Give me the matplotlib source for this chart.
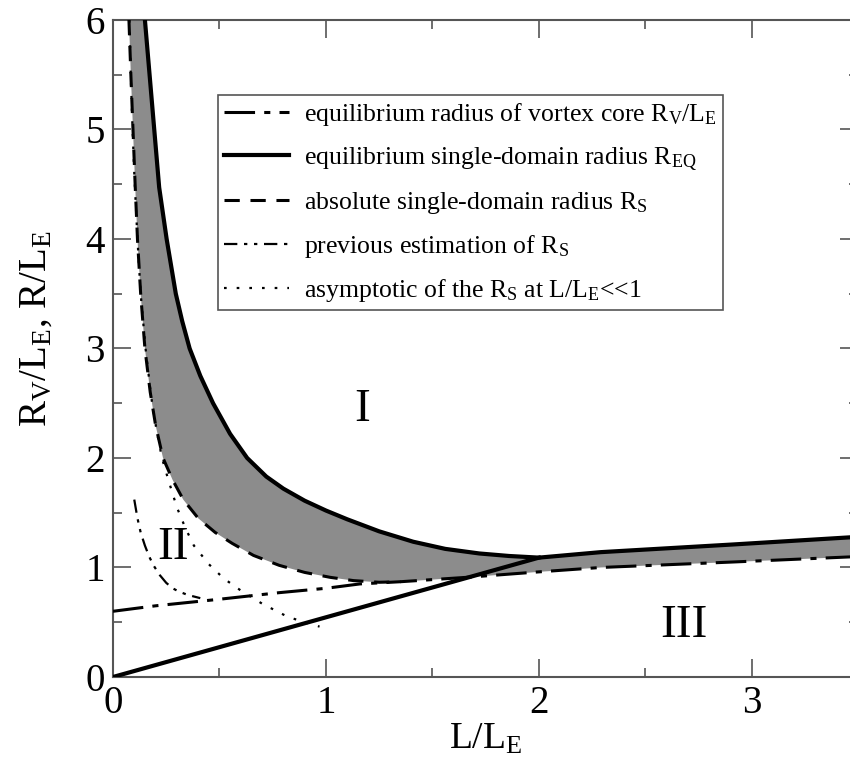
import numpy as np
import matplotlib
matplotlib.use("Agg")
import matplotlib.pyplot as plt
from matplotlib.ticker import MultipleLocator

# --- fonts: Times-like serif everywhere ---
plt.rcParams['font.family'] = ['Liberation Serif', 'DejaVu Serif']
plt.rcParams['mathtext.fontset'] = 'custom'
plt.rcParams['mathtext.rm'] = 'Liberation Serif'
plt.rcParams['mathtext.it'] = 'Liberation Serif:italic'

# --- data ---
# equilibrium radius of vortex core R_V/L_E
rv_x = [0.0, 0.2, 0.5, 0.78, 1.0, 1.16, 1.35, 1.66, 2.0, 2.29, 2.91, 3.5]
rv_y = [0.60, 0.65, 0.71, 0.77, 0.81, 0.85, 0.87, 0.91, 0.96, 1.00, 1.05, 1.10]

# equilibrium single-domain radius R_EQ, upper branch (then beyond the triple point)
req_up_x = [0.15, 0.217, 0.252, 0.295, 0.325, 0.36, 0.41, 0.47, 0.55, 0.63, 0.72, 0.80,
            0.90, 1.0, 1.10, 1.25, 1.41, 1.56, 1.72, 1.86, 2.0,
            2.29, 2.91, 3.5]
req_up_y = [6.0, 4.47, 4.0, 3.5, 3.25, 3.0, 2.75, 2.5, 2.22, 2.0, 1.83, 1.72,
            1.61, 1.52, 1.44, 1.33, 1.235, 1.17, 1.128, 1.105, 1.09,
            1.14, 1.21, 1.28]
# lower branch of R_EQ (straight from the origin)
req_lo_x = [0.0, 2.0]
req_lo_y = [0.0, 1.09]

# absolute single-domain radius R_S
rs_x = [0.075, 0.084, 0.094, 0.104, 0.115, 0.13, 0.15, 0.175, 0.20, 0.235, 0.28, 0.33,
        0.40, 0.48, 0.56, 0.66, 0.78, 0.90, 1.02, 1.13, 1.25, 1.35]
rs_y = [6.0, 5.5, 5.0, 4.5, 4.0, 3.5, 3.0, 2.6, 2.3, 2.0, 1.8, 1.62,
        1.45, 1.32, 1.22, 1.11, 1.02, 0.955, 0.91, 0.88, 0.865, 0.87]

# previous estimation of R_S
prev_x = [0.10, 0.115, 0.13, 0.15, 0.17, 0.19, 0.22, 0.25, 0.28, 0.31, 0.35, 0.41]
prev_y = [1.62, 1.45, 1.32, 1.20, 1.10, 1.02, 0.93, 0.86, 0.81, 0.78, 0.75, 0.72]

# asymptotic of R_S at L/L_E << 1
asym_x = [0.077, 0.085, 0.092, 0.10, 0.115, 0.13, 0.153, 0.18, 0.205, 0.23, 0.26, 0.30,
          0.34, 0.38, 0.45, 0.52, 0.60, 0.70, 0.82, 0.90, 0.97]
asym_y = [6.0, 5.4, 5.0, 4.6, 4.0, 3.5, 3.0, 2.55, 2.25, 2.0, 1.8, 1.55,
          1.36, 1.2, 1.03, 0.90, 0.79, 0.67, 0.55, 0.50, 0.46]

# region labels
region_names = ['I', 'II', 'III']
region_x = [1.17, 0.28, 2.68]
region_y = [2.44, 1.18, 0.47]

fig = plt.figure(figsize=(8.5, 7.73), dpi=100)
ax = fig.add_axes([0.1329, 0.1242, 0.877, 0.850])

# gray band between R_S / R_V and R_EQ
lower_x = rs_x[:-1] + [x for x in rv_x if x >= rs_x[-1]]
lower_y = rs_y[:-1] + [y for x, y in zip(rv_x, rv_y) if x >= rs_x[-1]]
poly_x = req_up_x + lower_x[::-1]
poly_y = req_up_y + lower_y[::-1]
ax.fill(poly_x, poly_y, color='#8c8c8c', lw=0, zorder=1)

ax.plot(rv_x, rv_y, color='black', lw=2.2, dashes=(10, 3, 2, 3), zorder=3,
        label=r'equilibrium radius of vortex core $\mathrm{R_V/L_E}$')
ax.plot(req_up_x, req_up_y, color='black', lw=3, zorder=4,
        label=r'equilibrium single-domain radius $\mathrm{R_{EQ}}$')
ax.plot(req_lo_x, req_lo_y, color='black', lw=3, zorder=4)
ax.plot(rs_x, rs_y, color='black', lw=2.2, dashes=(5, 3.5), zorder=3,
        label=r'absolute single-domain radius $\mathrm{R_S}$')
ax.plot(prev_x, prev_y, color='black', lw=1.6, dashes=(6, 3, 1.5, 3, 1.5, 3), zorder=3,
        label=r'previous estimation of $\mathrm{R_S}$')
ax.plot(asym_x, asym_y, color='black', lw=1.6, dashes=(1.2, 4.5), zorder=3,
        label=r'asymptotic of the $\mathrm{R_S}$ at $\mathrm{L/L_E}$<<1')

for name, x, y in zip(region_names, region_x, region_y):
    ax.text(x, y, name, fontsize=34, ha='center', va='center')

ax.set_xlim(0, 3.5)
ax.set_ylim(0, 6)
ax.xaxis.set_major_locator(MultipleLocator(1))
ax.xaxis.set_minor_locator(MultipleLocator(0.5))
ax.yaxis.set_major_locator(MultipleLocator(1))
ax.yaxis.set_minor_locator(MultipleLocator(0.5))
ax.tick_params(which='both', direction='in', top=True, right=True, color='#555555', width=1.2)
ax.tick_params(which='major', length=13, labelsize=28, pad=6)
ax.tick_params(which='minor', length=6.5)
for s in ax.spines.values():
    s.set_color('#555555')
    s.set_linewidth(1.5)

ax.set_xlabel(r'$\mathrm{L/L_E}$', fontsize=27)
ax.set_ylabel(r'$\mathrm{R_V/L_E}$, $\mathrm{R/L_E}$', fontsize=28)
ax.xaxis.set_label_coords(0.5, -0.068)
ax.yaxis.set_label_coords(-0.078, 0.53)

leg = ax.legend(loc='upper left', bbox_to_anchor=(0.141, 0.886), borderaxespad=0,
                fontsize=18.5, frameon=True, fancybox=False, framealpha=1,
                handlelength=2.5, handletextpad=0.6, labelspacing=0.66, borderpad=0.25)
leg.get_frame().set_edgecolor('#555555')
leg.get_frame().set_linewidth(1.2)

fig.savefig('out.png', dpi=100)
